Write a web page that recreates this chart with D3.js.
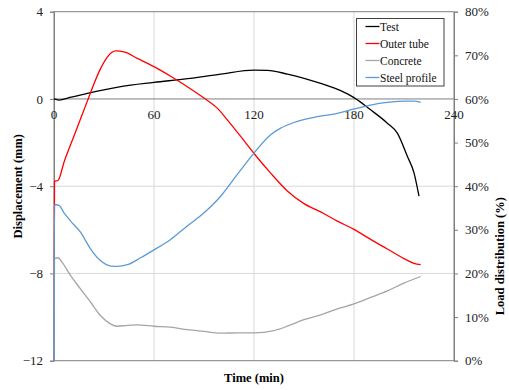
<!DOCTYPE html>
<meta charset="utf-8">
<html>
<head>
<style>
  body { margin: 0; background: #fff; }
  svg text { font-family: "Liberation Serif", "Times New Roman", Times, serif !important; }
</style>
</head>
<body>
<div id="chart"></div>
<script src="https://d3js.org/d3.v7.min.js"></script>
<script>

// time (min) and values
const testTime = [0, 3, 10, 20, 40, 60, 80, 100, 120, 128, 140, 160, 172, 180, 190, 200, 206, 212, 216, 219];
const testDisp = [0, -0.05, 0.08, 0.26, 0.57, 0.76, 0.93, 1.14, 1.32, 1.31, 1.14, 0.71, 0.38, 0.06, -0.5, -1.11, -1.57, -2.63, -3.39, -4.46];

const tubeTime = [0, 0.3, 2.4, 6, 12, 16, 20, 24, 28, 32, 37, 42, 50, 60, 70, 80, 90, 98, 104, 112, 120, 130, 140, 150, 160, 170, 180, 190, 200, 210, 216, 220];
const tubeLoad = [0, 41.1, 41.3, 45.5, 51.5, 55.5, 59.5, 63.5, 67.0, 69.6, 71.0, 70.8, 69.3, 67.4, 65.2, 62.8, 60.2, 57.9, 55.2, 51.4, 47.5, 43.0, 38.9, 36.0, 34.1, 32.0, 30.1, 27.8, 25.6, 23.4, 22.3, 22.0];

const concTime = [0, 0.3, 2.4, 5, 10, 16, 22, 28, 34, 38, 44, 50, 60, 70, 80, 90, 100, 110, 120, 132, 140, 150, 160, 170, 180, 190, 200, 210, 220];
const concLoad = [0, 23.4, 23.6, 22.5, 19.5, 16.4, 13.4, 10.3, 8.4, 7.9, 8.1, 8.2, 7.9, 7.7, 7.1, 6.7, 6.3, 6.4, 6.4, 6.9, 7.9, 9.4, 10.5, 11.9, 13.0, 14.5, 16.0, 17.8, 19.3];

const steelTime = [0, 0.3, 3, 6, 10, 16, 22, 28, 34, 38, 44, 52, 60, 70, 80, 90, 100, 110, 120, 130, 136, 144, 156, 170, 180, 190, 200, 212, 216, 220];
const steelLoad = [0, 35.8, 35.6, 33.9, 32.0, 29.4, 25.6, 22.9, 21.7, 21.6, 22.0, 23.6, 25.4, 27.8, 30.9, 33.9, 37.7, 42.7, 47.6, 51.8, 53.3, 54.6, 55.8, 56.7, 57.7, 58.6, 59.2, 59.5, 59.5, 59.2];

const xTicks = [0, 60, 120, 180, 240];
const leftTicks = [4, 0, -4, -8, -12];
const rightTicks = [0, 10, 20, 30, 40, 50, 60, 70, 80];

const seriesNames = ["Test", "Outer tube", "Concrete", "Steel profile"];
const seriesColors = ["#000000", "#ff0000", "#a5a5a5", "#5b9bd5"];

const FONT = "'Liberation Serif', 'Times New Roman', serif";
const W = 509, H = 390;
const margin = {top: 11.7, right: 55, bottom: 29.3, left: 54};
const width = W - margin.left - margin.right,
      height = H - margin.top - margin.bottom;

const svg = d3.select("#chart").append("svg")
    .attr("width", W).attr("height", H)
    .attr("font-family", FONT)
    .style("background", "#fff");

const g = svg.append("g")
    .attr("transform", `translate(${margin.left},${margin.top})`);

const x = d3.scaleLinear().domain([0, 240]).range([0, width]);
const y = d3.scaleLinear().domain([-12, 4]).range([height, 0]);
const y2 = d3.scaleLinear().domain([0, 80]).range([height, 0]);

// gridlines
g.append("g").selectAll("line")
  .data(xTicks.filter(d => d > 0 && d < 240))
  .join("line")
    .attr("x1", d => x(d)).attr("x2", d => x(d))
    .attr("y1", 0).attr("y2", height)
    .attr("stroke", "#d9d9d9").attr("stroke-width", 1);
g.append("g").selectAll("line")
  .data([-4, -8])
  .join("line")
    .attr("x1", 0).attr("x2", width)
    .attr("y1", d => y(d)).attr("y2", d => y(d))
    .attr("stroke", "#d9d9d9").attr("stroke-width", 1);

// plot border
g.append("rect")
  .attr("width", width).attr("height", height)
  .attr("fill", "none").attr("stroke", "#7f7f7f").attr("stroke-width", 1);

// zero line acting as x axis
g.append("line")
  .attr("x1", 0).attr("x2", width)
  .attr("y1", y(0)).attr("y2", y(0))
  .attr("stroke", "#7f7f7f").attr("stroke-width", 1);

// left axis
const yAxis = g.append("g")
  .call(d3.axisLeft(y).tickValues(leftTicks).tickSize(4).tickPadding(7).tickFormat(d3.format("d")));
yAxis.attr("font-family", FONT);
yAxis.select(".domain").attr("stroke", "#7f7f7f");
yAxis.selectAll(".tick line").attr("stroke", "#7f7f7f");
yAxis.selectAll("text").attr("font-size", 13).attr("fill", "#222");

// right axis
const y2Axis = g.append("g")
  .attr("transform", `translate(${width},0)`)
  .call(d3.axisRight(y2).tickValues(rightTicks).tickSize(4).tickPadding(7).tickFormat(d => d + "%"));
y2Axis.attr("font-family", FONT);
y2Axis.select(".domain").attr("stroke", "#7f7f7f");
y2Axis.selectAll(".tick line").attr("stroke", "#7f7f7f");
y2Axis.selectAll("text").attr("font-size", 13).attr("fill", "#222");

// x labels on zero line
g.append("g").selectAll("text")
  .data(xTicks)
  .join("text")
    .attr("x", d => x(d)).attr("y", y(0) + 20)
    .attr("text-anchor", "middle")
    .attr("font-size", 13).attr("fill", "#222")
    .text(d => d);

// lines
const line1 = d3.line().x(d => x(d[0])).y(d => y(d[1])).curve(d3.curveMonotoneX);
const line2 = d3.line().x(d => x(d[0])).y(d => y2(d[1])).curve(d3.curveMonotoneX);

const series = [
  {pts: d3.zip(testTime, testDisp), gen: line1},
  {pts: d3.zip(tubeTime, tubeLoad), gen: line2},
  {pts: d3.zip(concTime, concLoad), gen: line2},
  {pts: d3.zip(steelTime, steelLoad), gen: line2}
];

g.append("g").selectAll("path")
  .data(series)
  .join("path")
    .attr("d", d => d.gen(d.pts))
    .attr("fill", "none")
    .attr("stroke", (d, i) => seriesColors[i])
    .attr("stroke-width", 1.3);

// legend
const leg = svg.append("g").attr("transform", "translate(356.5,18.5)");
leg.append("rect").attr("width", 87.5).attr("height", 67.5)
  .attr("fill", "#fff").attr("stroke", "#404040").attr("stroke-width", 1);
const items = leg.selectAll("g.item")
  .data(seriesNames)
  .join("g")
    .attr("transform", (d, i) => `translate(0,${8 + i * 17})`);
items.append("line")
  .attr("x1", 9).attr("x2", 23)
  .attr("stroke", (d, i) => seriesColors[i]).attr("stroke-width", 1.3);
items.append("text")
  .attr("x", 23.5).attr("y", 4)
  .attr("font-size", 11.5).attr("fill", "#111")
  .text(d => d);

// axis titles
svg.append("text")
  .attr("transform", `translate(22,${margin.top + height / 2}) rotate(-90)`)
  .attr("text-anchor", "middle").attr("font-weight", "bold").attr("font-size", 12.5)
  .text("Displacement (mm)");
svg.append("text")
  .attr("transform", `translate(504,${margin.top + height / 2 + 70}) rotate(-90)`)
  .attr("text-anchor", "middle").attr("font-weight", "bold").attr("font-size", 12.5)
  .text("Load distribution (%)");
svg.append("text")
  .attr("x", margin.left + width / 2).attr("y", 382)
  .attr("text-anchor", "middle").attr("font-weight", "bold").attr("font-size", 12.5)
  .text("Time (min)");

</script>
</body>
</html>
